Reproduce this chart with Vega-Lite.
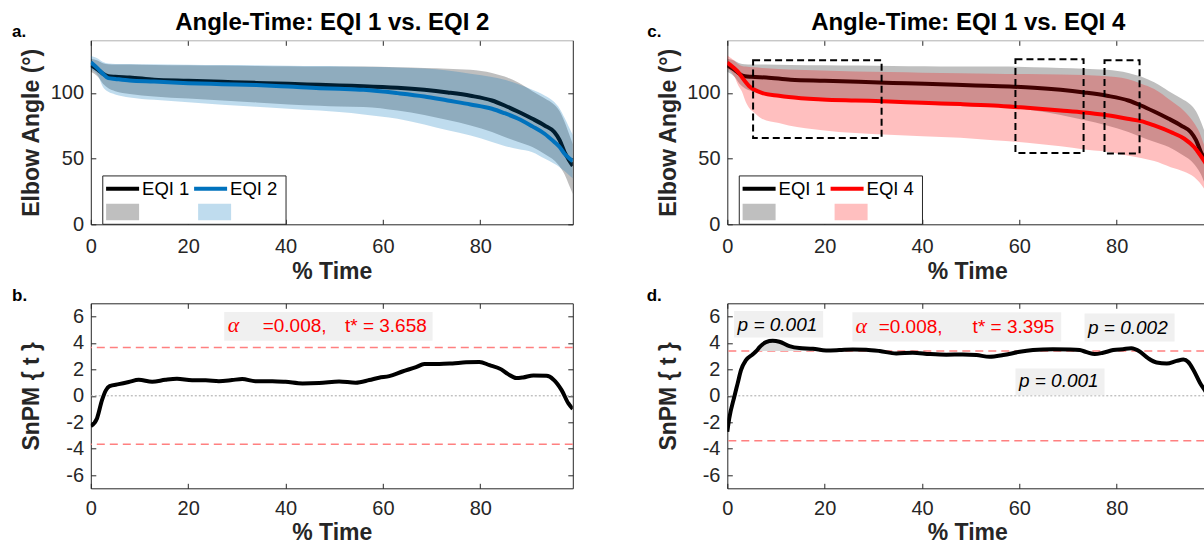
{
"$schema":"https://vega.github.io/schema/vega-lite/v6.json",
"padding":{"left":10.8,"top":10.3,"right":0,"bottom":0},
"autosize":{"type":"pad"},
"background":"#ffffff",
"config":{
 "font":"Liberation Sans",
 "view":{"stroke":null},
 "axis":{"labelFont":"Liberation Sans","labelFontSize":20,"labelColor":"#262626","titleFont":"Liberation Sans","titleFontSize":23,"titleFontWeight":"bold","titleColor":"#262626","tickColor":"#262626","domainColor":"#262626","tickSize":-5,"tickWidth":1,"domainWidth":1,"grid":false,"labelFlush":false,"labelOverlap":false,"labelBound":false,"titleBaseline":"alphabetic","titlePadding":0},
 "legend":{"labelFont":"Liberation Sans"}
},
"datasets":{
 "eqi1":[
  {"s":"EQI 1","sd":"EQI 1 SD","x":0,"m":121,"lo":116,"hi":126},
  {"s":"EQI 1","sd":"EQI 1 SD","x":1.5,"m":117.5,"lo":112,"hi":124.5},
  {"s":"EQI 1","sd":"EQI 1 SD","x":2.5,"m":114.5,"lo":107,"hi":122.5},
  {"s":"EQI 1","sd":"EQI 1 SD","x":3.6,"m":112.7,"lo":103.5,"hi":121.8},
  {"s":"EQI 1","sd":"EQI 1 SD","x":5,"m":112.2,"lo":101.3,"hi":121.6},
  {"s":"EQI 1","sd":"EQI 1 SD","x":8,"m":111.7,"lo":99.2,"hi":121.5},
  {"s":"EQI 1","sd":"EQI 1 SD","x":13,"m":110,"lo":97.3,"hi":121.3},
  {"s":"EQI 1","sd":"EQI 1 SD","x":20,"m":109.2,"lo":95.7,"hi":121},
  {"s":"EQI 1","sd":"EQI 1 SD","x":27,"m":108.4,"lo":94.2,"hi":120.8},
  {"s":"EQI 1","sd":"EQI 1 SD","x":34,"m":107.6,"lo":92.7,"hi":120.5},
  {"s":"EQI 1","sd":"EQI 1 SD","x":40.6,"m":106.9,"lo":91.2,"hi":120.3},
  {"s":"EQI 1","sd":"EQI 1 SD","x":47,"m":106.1,"lo":90.2,"hi":120.1},
  {"s":"EQI 1","sd":"EQI 1 SD","x":51,"m":105.6,"lo":89.6,"hi":120},
  {"s":"EQI 1","sd":"EQI 1 SD","x":56,"m":105.1,"lo":89.3,"hi":120},
  {"s":"EQI 1","sd":"EQI 1 SD","x":63,"m":103.9,"lo":86.6,"hi":119.5},
  {"s":"EQI 1","sd":"EQI 1 SD","x":68.5,"m":102.3,"lo":83.2,"hi":119},
  {"s":"EQI 1","sd":"EQI 1 SD","x":73.3,"m":100.3,"lo":79.3,"hi":118.4},
  {"s":"EQI 1","sd":"EQI 1 SD","x":78,"m":97.8,"lo":75.2,"hi":117.5},
  {"s":"EQI 1","sd":"EQI 1 SD","x":82.4,"m":94.2,"lo":70.2,"hi":115.2},
  {"s":"EQI 1","sd":"EQI 1 SD","x":85,"m":90.4,"lo":66.5,"hi":112.4},
  {"s":"EQI 1","sd":"EQI 1 SD","x":87.7,"m":85.8,"lo":62.8,"hi":108},
  {"s":"EQI 1","sd":"EQI 1 SD","x":90.7,"m":80.3,"lo":58.8,"hi":101.3},
  {"s":"EQI 1","sd":"EQI 1 SD","x":93.2,"m":75.2,"lo":53.5,"hi":96},
  {"s":"EQI 1","sd":"EQI 1 SD","x":95.2,"m":70.2,"lo":48.5,"hi":91},
  {"s":"EQI 1","sd":"EQI 1 SD","x":96.3,"m":64,"lo":44,"hi":86},
  {"s":"EQI 1","sd":"EQI 1 SD","x":97.3,"m":55,"lo":38,"hi":78},
  {"s":"EQI 1","sd":"EQI 1 SD","x":98.2,"m":49,"lo":30,"hi":69},
  {"s":"EQI 1","sd":"EQI 1 SD","x":99,"m":44.5,"lo":23,"hi":61}
 ],
 "eqi2":[
  {"s":"EQI 2","sd":"EQI 2 SD","x":0,"m":123.3,"lo":118,"hi":128},
  {"s":"EQI 2","sd":"EQI 2 SD","x":1.5,"m":118.3,"lo":113,"hi":126},
  {"s":"EQI 2","sd":"EQI 2 SD","x":2.5,"m":114.5,"lo":104.5,"hi":123.5},
  {"s":"EQI 2","sd":"EQI 2 SD","x":3.6,"m":111.2,"lo":100.8,"hi":122.3},
  {"s":"EQI 2","sd":"EQI 2 SD","x":5,"m":110.6,"lo":98.8,"hi":122},
  {"s":"EQI 2","sd":"EQI 2 SD","x":8,"m":109.4,"lo":96.5,"hi":122},
  {"s":"EQI 2","sd":"EQI 2 SD","x":13,"m":108.6,"lo":94.7,"hi":121.7},
  {"s":"EQI 2","sd":"EQI 2 SD","x":20,"m":107.4,"lo":92.8,"hi":121.4},
  {"s":"EQI 2","sd":"EQI 2 SD","x":27,"m":106.6,"lo":90.9,"hi":121.2},
  {"s":"EQI 2","sd":"EQI 2 SD","x":34,"m":105.9,"lo":89.4,"hi":121},
  {"s":"EQI 2","sd":"EQI 2 SD","x":40.6,"m":104.8,"lo":87.9,"hi":120.7},
  {"s":"EQI 2","sd":"EQI 2 SD","x":47,"m":103.6,"lo":86.5,"hi":120.4},
  {"s":"EQI 2","sd":"EQI 2 SD","x":51,"m":103.1,"lo":85.4,"hi":120.2},
  {"s":"EQI 2","sd":"EQI 2 SD","x":56,"m":102.3,"lo":83.6,"hi":119.8},
  {"s":"EQI 2","sd":"EQI 2 SD","x":63,"m":99.8,"lo":80.3,"hi":119.3},
  {"s":"EQI 2","sd":"EQI 2 SD","x":68.5,"m":97.3,"lo":76,"hi":118.5},
  {"s":"EQI 2","sd":"EQI 2 SD","x":73.3,"m":94.2,"lo":71.5,"hi":117},
  {"s":"EQI 2","sd":"EQI 2 SD","x":78,"m":91.2,"lo":67.5,"hi":114.5},
  {"s":"EQI 2","sd":"EQI 2 SD","x":82.4,"m":87.9,"lo":62.6,"hi":112},
  {"s":"EQI 2","sd":"EQI 2 SD","x":85,"m":84.5,"lo":59.6,"hi":109.9},
  {"s":"EQI 2","sd":"EQI 2 SD","x":87.7,"m":80.5,"lo":57.2,"hi":106.8},
  {"s":"EQI 2","sd":"EQI 2 SD","x":90.7,"m":74.5,"lo":54.8,"hi":102.3},
  {"s":"EQI 2","sd":"EQI 2 SD","x":93.2,"m":68.9,"lo":50,"hi":98},
  {"s":"EQI 2","sd":"EQI 2 SD","x":95.2,"m":62.6,"lo":46,"hi":93},
  {"s":"EQI 2","sd":"EQI 2 SD","x":96.3,"m":58.8,"lo":43.5,"hi":88},
  {"s":"EQI 2","sd":"EQI 2 SD","x":97.3,"m":53.7,"lo":40.5,"hi":81},
  {"s":"EQI 2","sd":"EQI 2 SD","x":98.2,"m":50.5,"lo":37.5,"hi":74},
  {"s":"EQI 2","sd":"EQI 2 SD","x":99,"m":48,"lo":35,"hi":68}
 ],
 "eqi4":[
  {"s":"EQI 4","sd":"EQI 4 SD","x":0,"m":123,"lo":119,"hi":128.5},
  {"s":"EQI 4","sd":"EQI 4 SD","x":1.5,"m":118.5,"lo":112,"hi":124.5},
  {"s":"EQI 4","sd":"EQI 4 SD","x":2.2,"m":116,"lo":106,"hi":122},
  {"s":"EQI 4","sd":"EQI 4 SD","x":3,"m":112,"lo":101,"hi":120.5},
  {"s":"EQI 4","sd":"EQI 4 SD","x":3.8,"m":108,"lo":93,"hi":120},
  {"s":"EQI 4","sd":"EQI 4 SD","x":4.5,"m":105,"lo":88.5,"hi":119.7},
  {"s":"EQI 4","sd":"EQI 4 SD","x":5.5,"m":102.5,"lo":85,"hi":119.5},
  {"s":"EQI 4","sd":"EQI 4 SD","x":7.1,"m":100,"lo":80.3,"hi":119},
  {"s":"EQI 4","sd":"EQI 4 SD","x":10.6,"m":97.8,"lo":77,"hi":118.2},
  {"s":"EQI 4","sd":"EQI 4 SD","x":12.6,"m":96.8,"lo":75.2,"hi":117.8},
  {"s":"EQI 4","sd":"EQI 4 SD","x":19.5,"m":95,"lo":71.6,"hi":117},
  {"s":"EQI 4","sd":"EQI 4 SD","x":26.3,"m":94.2,"lo":69.4,"hi":116.3},
  {"s":"EQI 4","sd":"EQI 4 SD","x":33.2,"m":93.5,"lo":68.1,"hi":115.8},
  {"s":"EQI 4","sd":"EQI 4 SD","x":40.1,"m":92.4,"lo":66.9,"hi":115.3},
  {"s":"EQI 4","sd":"EQI 4 SD","x":47.9,"m":91.5,"lo":65.8,"hi":115},
  {"s":"EQI 4","sd":"EQI 4 SD","x":54.7,"m":90.4,"lo":63.9,"hi":114.6},
  {"s":"EQI 4","sd":"EQI 4 SD","x":61.6,"m":88.6,"lo":62.1,"hi":114.3},
  {"s":"EQI 4","sd":"EQI 4 SD","x":68.5,"m":86.6,"lo":59.3,"hi":114},
  {"s":"EQI 4","sd":"EQI 4 SD","x":73.3,"m":85.1,"lo":57,"hi":113.6},
  {"s":"EQI 4","sd":"EQI 4 SD","x":77.4,"m":83.3,"lo":55.5,"hi":112.8},
  {"s":"EQI 4","sd":"EQI 4 SD","x":82.2,"m":80.3,"lo":52.4,"hi":110.5},
  {"s":"EQI 4","sd":"EQI 4 SD","x":85,"m":78.5,"lo":50.5,"hi":107},
  {"s":"EQI 4","sd":"EQI 4 SD","x":87.7,"m":75.2,"lo":48.1,"hi":103},
  {"s":"EQI 4","sd":"EQI 4 SD","x":91.1,"m":70.2,"lo":43.5,"hi":94.2},
  {"s":"EQI 4","sd":"EQI 4 SD","x":93.9,"m":65.1,"lo":40,"hi":86},
  {"s":"EQI 4","sd":"EQI 4 SD","x":95.9,"m":58.8,"lo":36,"hi":77},
  {"s":"EQI 4","sd":"EQI 4 SD","x":97,"m":53.5,"lo":32,"hi":70},
  {"s":"EQI 4","sd":"EQI 4 SD","x":98,"m":48,"lo":27,"hi":60},
  {"s":"EQI 4","sd":"EQI 4 SD","x":99,"m":42,"lo":22,"hi":52}
 ],
 "t12":[
  {"x":0,"t":-2.29},{"x":1.27,"t":-1.71},{"x":2.3,"t":-0.33},{"x":3.12,"t":0.43},{"x":3.87,"t":0.73},{"x":5.73,"t":0.88},{"x":7.78,"t":1.04},{"x":9.84,"t":1.21},{"x":12.6,"t":1.06},{"x":15.3,"t":1.21},{"x":17.7,"t":1.29},{"x":20.8,"t":1.17},{"x":23.6,"t":1.17},{"x":26.3,"t":1.11},{"x":29,"t":1.19},{"x":31.1,"t":1.27},{"x":33.8,"t":1.11},{"x":37.3,"t":1.11},{"x":40,"t":1.06},{"x":43.5,"t":0.94},{"x":46.9,"t":0.96},{"x":51,"t":1.09},{"x":54.4,"t":0.99},{"x":57.2,"t":1.19},{"x":59.2,"t":1.37},{"x":61.3,"t":1.49},{"x":64,"t":1.84},{"x":66.8,"t":2.17},{"x":68.5,"t":2.4},{"x":71.6,"t":2.4},{"x":74.3,"t":2.45},{"x":77.1,"t":2.53},{"x":79.8,"t":2.55},{"x":81.9,"t":2.32},{"x":84.3,"t":2.0},{"x":85.7,"t":1.64},{"x":87.4,"t":1.34},{"x":88.8,"t":1.39},{"x":90.9,"t":1.54},{"x":93.6,"t":1.51},{"x":95,"t":1.24},{"x":96.7,"t":0.43},{"x":98.1,"t":-0.58},{"x":99,"t":-1.0}
 ],
 "t14":[
  {"x":0,"t":-2.72},{"x":0.4,"t":-1.71},{"x":1.44,"t":-0.07},{"x":2.13,"t":0.94},{"x":2.81,"t":1.94},{"x":3.84,"t":2.7},{"x":5.2,"t":3.13},{"x":6.0,"t":3.4},{"x":6.58,"t":3.66},{"x":7.96,"t":4.06},{"x":9.33,"t":4.16},{"x":10.7,"t":4.09},{"x":12.76,"t":3.76},{"x":14.8,"t":3.61},{"x":17.6,"t":3.56},{"x":20.3,"t":3.43},{"x":23,"t":3.46},{"x":25.8,"t":3.51},{"x":28.5,"t":3.49},{"x":31.3,"t":3.39},{"x":34.7,"t":3.2},{"x":38.1,"t":3.26},{"x":41.6,"t":3.16},{"x":45,"t":3.11},{"x":48.4,"t":3.13},{"x":51.2,"t":3.08},{"x":53.9,"t":2.95},{"x":56.7,"t":3.08},{"x":60.1,"t":3.33},{"x":62.8,"t":3.46},{"x":66.9,"t":3.53},{"x":70.4,"t":3.51},{"x":72.4,"t":3.46},{"x":73.8,"t":3.31},{"x":75.5,"t":3.16},{"x":77.2,"t":3.26},{"x":79.3,"t":3.46},{"x":81.3,"t":3.53},{"x":83,"t":3.59},{"x":84.8,"t":3.33},{"x":86.5,"t":2.83},{"x":88.2,"t":2.52},{"x":90.3,"t":2.45},{"x":92.3,"t":2.64},{"x":93.7,"t":2.74},{"x":94.7,"t":2.56},{"x":95.8,"t":1.94},{"x":97.1,"t":0.99},{"x":98.5,"t":0.18},{"x":99,"t":-0.2}
 ],
 "legbox":[{"x1":2.46,"x2":40.1,"y1":0,"y2":36.8}],
 "zero":[{"v":0}],
 "thr12":[{"v":3.658},{"v":-3.658}],
 "thr14":[{"v":3.395},{"v":-3.395}],
 "boxesC":[
  {"x1":5.3,"x2":31.7,"y1":65.7,"y2":124.8},
  {"x1":59.2,"x2":73.2,"y1":54.3,"y2":125.6},
  {"x1":77.5,"x2":84.7,"y1":53.8,"y2":124.8}
 ],
 "boxes12":[{"x1":27.4,"x2":70.2,"y1":4.16,"y2":6.35}],
 "alpha12":[{"x":29.3,"y":4.8,"t":"α"}],
 "red12":[{"x":35.3,"y":4.8,"t":"=0.008,"},{"x":52.2,"y":4.8,"t":"t* = 3.658"}],
 "boxes14":[
  {"x1":1.4,"x2":19.7,"y1":4.42,"y2":6.41},
  {"x1":25.7,"x2":68.6,"y1":4.11,"y2":6.33},
  {"x1":73.4,"x2":91.9,"y1":4.11,"y2":6.23},
  {"x1":59.2,"x2":77.5,"y1":0.05,"y2":2.07}
 ],
 "alpha14":[{"x":27.5,"y":4.72,"t":"α"}],
 "red14":[{"x":31.1,"y":4.72,"t":"=0.008,"},{"x":50.4,"y":4.72,"t":"t* = 3.395"}],
 "p14":[
  {"x":10.3,"y":4.89,"t":"p = 0.001"},
  {"x":82.3,"y":4.64,"t":"p = 0.002"},
  {"x":68.1,"y":0.68,"t":"p = 0.001"}
 ]
},
"columns":2,
"spacing":{"row":79,"column":154.5},
"bounds":"flush",
"resolve":{"scale":{"x":"independent","y":"independent","fill":"independent","stroke":"independent"},"legend":{"fill":"independent","stroke":"independent"}},
"concat":[
 {
  "width":482,"height":184,
  "resolve":{"axis":{"x":"independent","y":"independent"}},
  "layer":[
   {"data":{"name":"eqi1"},"mark":{"type":"area","opacity":1,"interpolate":"monotone","clip":true},
    "encoding":{
     "x":{"field":"x","type":"quantitative","scale":{"domain":[0,99],"nice":false,"zero":false},
      "axis":{"orient":"bottom","values":[0,20,40,60,80],"labelPadding":17,"title":"% Time","titleX":241,"titleY":54.3}},
     "y":{"field":"hi","type":"quantitative","scale":{"domain":[0,140],"nice":false,"zero":false},
      "axis":{"orient":"left","values":[0,50,100],"labelPadding":12.3,"title":"Elbow Angle (°)","titleX":-52.2,"titleY":92,"titleAngle":270,"titleAlign":"center"}},
     "y2":{"field":"lo"},
     "fill":{"field":"sd","type":"nominal",
      "scale":{"domain":["EQI 1 SD","EQI 2 SD"],"range":["rgba(0,0,0,0.25)","rgba(0,114,189,0.25)"]},
      "legend":{"title":null,"orient":"none","direction":"horizontal","legendX":15.3,"legendY":155.3,"symbolType":"M-1,-0.5H1V0.5H-1Z","symbolSize":1089,"symbolStrokeWidth":0,"symbolOpacity":1,"labelExpr":"''","labelFontSize":18.5,"labelOffset":0,"columnPadding":59,"padding":0}}}},
   {"data":{"name":"eqi1"},"mark":{"type":"line","strokeWidth":4,"interpolate":"monotone","clip":true},
    "encoding":{"x":{"field":"x","type":"quantitative","axis":null},"y":{"field":"m","type":"quantitative","axis":null},
     "stroke":{"field":"s","type":"nominal","scale":{"domain":["EQI 1","EQI 2"],"range":["#000000","#0072bd"]},
      "legend":{"title":null,"orient":"none","direction":"horizontal","legendX":13.3,"legendY":130,"symbolType":"stroke","symbolSize":1089,"symbolStrokeWidth":4,"symbolOpacity":1,"labelFontSize":18.5,"labelColor":"#000000","labelOffset":1,"columnPadding":-4,"padding":0}}}},
   {"data":{"name":"eqi2"},"mark":{"type":"area","opacity":1,"interpolate":"monotone","clip":true},
    "encoding":{"x":{"field":"x","type":"quantitative","axis":null},"y":{"field":"hi","type":"quantitative","axis":null},"y2":{"field":"lo"},"fill":{"field":"sd","type":"nominal"}}},
   {"data":{"name":"eqi2"},"mark":{"type":"line","strokeWidth":4,"interpolate":"monotone","clip":true},
    "encoding":{"x":{"field":"x","type":"quantitative","axis":null},"y":{"field":"m","type":"quantitative","axis":null},"stroke":{"field":"s","type":"nominal"}}},
   {"data":{"name":"legbox"},"mark":{"type":"rect","fill":"#ffffff","stroke":"#262626","strokeWidth":1},
    "encoding":{"x":{"field":"x1","type":"quantitative","axis":null},"x2":{"field":"x2"},"y":{"field":"y1","type":"quantitative","axis":null},"y2":{"field":"y2"}}},
   {"data":{"name":"eqi1"},"mark":{"type":"point","opacity":0,"clip":true},
    "encoding":{
     "x":{"field":"x","type":"quantitative","axis":{"orient":"top","values":[0,20,40,60,80],"labels":false,"domainColor":"#b0b0b0","title":"Angle-Time: EQI 1 vs. EQI 2","titleFontSize":24,"titleColor":"#000000","titleX":241,"titleY":-10.7,"titleAlign":"center"}},
     "y":{"field":"m","type":"quantitative","axis":{"orient":"right","values":[0,50,100],"labels":false,"title":"a.","titleFontSize":17,"titleColor":"#000000","titleAngle":0,"titleAlign":"left","titleX":-561.2,"titleY":-3.3}}}}
  ]
 },
 {
  "width":477,"height":184,
  "resolve":{"axis":{"x":"independent","y":"independent"}},
  "layer":[
   {"data":{"name":"eqi1"},"mark":{"type":"area","opacity":1,"interpolate":"monotone","clip":true},
    "encoding":{
     "x":{"field":"x","type":"quantitative","scale":{"domain":[0,98],"nice":false,"zero":false},
      "axis":{"orient":"bottom","values":[0,20,40,60,80],"labelPadding":17,"title":"% Time","titleX":240,"titleY":54.3}},
     "y":{"field":"hi","type":"quantitative","scale":{"domain":[0,140],"nice":false,"zero":false},
      "axis":{"orient":"left","values":[0,50,100],"labelPadding":12.3,"title":"Elbow Angle (°)","titleX":-52.2,"titleY":92,"titleAngle":270,"titleAlign":"center"}},
     "y2":{"field":"lo"},
     "fill":{"field":"sd","type":"nominal",
      "scale":{"domain":["EQI 1 SD","EQI 4 SD"],"range":["rgba(0,0,0,0.25)","rgba(255,0,0,0.25)"]},
      "legend":{"title":null,"orient":"none","direction":"horizontal","legendX":15.3,"legendY":155.3,"symbolType":"M-1,-0.5H1V0.5H-1Z","symbolSize":1089,"symbolStrokeWidth":0,"symbolOpacity":1,"labelExpr":"''","labelFontSize":18.5,"labelOffset":0,"columnPadding":59,"padding":0}}}},
   {"data":{"name":"eqi1"},"mark":{"type":"line","strokeWidth":4,"interpolate":"monotone","clip":true},
    "encoding":{"x":{"field":"x","type":"quantitative","axis":null},"y":{"field":"m","type":"quantitative","axis":null},
     "stroke":{"field":"s","type":"nominal","scale":{"domain":["EQI 1","EQI 4"],"range":["#000000","#ff0000"]},
      "legend":{"title":null,"orient":"none","direction":"horizontal","legendX":13.3,"legendY":130,"symbolType":"stroke","symbolSize":1089,"symbolStrokeWidth":4,"symbolOpacity":1,"labelFontSize":18.5,"labelColor":"#000000","labelOffset":1,"columnPadding":-4,"padding":0}}}},
   {"data":{"name":"eqi4"},"mark":{"type":"area","opacity":1,"interpolate":"monotone","clip":true},
    "encoding":{"x":{"field":"x","type":"quantitative","axis":null},"y":{"field":"hi","type":"quantitative","axis":null},"y2":{"field":"lo"},"fill":{"field":"sd","type":"nominal"}}},
   {"data":{"name":"eqi4"},"mark":{"type":"line","strokeWidth":4,"interpolate":"monotone","clip":true},
    "encoding":{"x":{"field":"x","type":"quantitative","axis":null},"y":{"field":"m","type":"quantitative","axis":null},"stroke":{"field":"s","type":"nominal"}}},
   {"data":{"name":"boxesC"},"mark":{"type":"rect","fill":"transparent","stroke":"#000000","strokeWidth":2,"strokeDash":[7,4],"clip":true},
    "encoding":{"x":{"field":"x1","type":"quantitative","axis":null},"x2":{"field":"x2"},"y":{"field":"y1","type":"quantitative","axis":null},"y2":{"field":"y2"}}},
   {"data":{"name":"legbox"},"mark":{"type":"rect","fill":"#ffffff","stroke":"#262626","strokeWidth":1},
    "encoding":{"x":{"field":"x1","type":"quantitative","axis":null},"x2":{"field":"x2"},"y":{"field":"y1","type":"quantitative","axis":null},"y2":{"field":"y2"}}},
   {"data":{"name":"eqi1"},"mark":{"type":"point","opacity":0,"clip":true},
    "encoding":{
     "x":{"field":"x","type":"quantitative","axis":{"orient":"top","values":[0,20,40,60,80],"labels":false,"domainColor":"#b0b0b0","title":"Angle-Time: EQI 1 vs. EQI 4","titleFontSize":24,"titleColor":"#000000","titleX":240.4,"titleY":-10.7,"titleAlign":"center"}},
     "y":{"field":"m","type":"quantitative","axis":{"orient":"right","domain":false,"ticks":false,"labels":false,"title":"c.","titleFontSize":17,"titleColor":"#000000","titleAngle":0,"titleAlign":"left","titleX":-557.5,"titleY":-3.3}}}}
  ]
 },
 {
  "width":482,"height":185,
  "resolve":{"axis":{"x":"independent","y":"independent"}},
  "layer":[
   {"data":{"name":"zero"},"mark":{"type":"rule","color":"#a6a6a6","strokeWidth":1,"strokeDash":[2,2]},
    "encoding":{"y":{"field":"v","type":"quantitative","axis":null}}},
   {"data":{"name":"thr12"},"mark":{"type":"rule","color":"#ff8080","strokeWidth":1.5,"strokeDash":[8,5]},
    "encoding":{"y":{"field":"v","type":"quantitative","axis":null}}},
   {"data":{"name":"t12"},"mark":{"type":"line","color":"#000000","strokeWidth":4,"interpolate":"monotone","clip":true},
    "encoding":{
     "x":{"field":"x","type":"quantitative","scale":{"domain":[0,99],"nice":false,"zero":false},
      "axis":{"orient":"bottom","values":[0,20,40,60,80],"labelPadding":15,"title":"% Time","titleX":241,"titleY":51}},
     "y":{"field":"t","type":"quantitative","scale":{"domain":[-7,7],"nice":false,"zero":false},
      "axis":{"orient":"left","values":[-6,-4,-2,0,2,4,6],"labelPadding":12.3,"labelExpr":"datum.value < 0 ? '-' + abs(datum.value) : '' + datum.value","title":"SnPM { t }","titleX":-52.2,"titleY":92.5,"titleAngle":270,"titleAlign":"center"}}}},
   {"data":{"name":"boxes12"},"mark":{"type":"rect","color":"#f0f0f0"},
    "encoding":{"x":{"field":"x1","type":"quantitative","axis":null},"x2":{"field":"x2"},"y":{"field":"y1","type":"quantitative","axis":null},"y2":{"field":"y2"}}},
   {"data":{"name":"alpha12"},"mark":{"type":"text","font":"Liberation Serif","fontStyle":"italic","fontSize":22,"color":"#ff0000","align":"center","baseline":"alphabetic"},
    "encoding":{"x":{"field":"x","type":"quantitative","axis":null},"y":{"field":"y","type":"quantitative","axis":null},"text":{"field":"t"}}},
   {"data":{"name":"red12"},"mark":{"type":"text","font":"Liberation Sans","fontSize":19,"color":"#ff0000","align":"left","baseline":"alphabetic"},
    "encoding":{"x":{"field":"x","type":"quantitative","axis":null},"y":{"field":"y","type":"quantitative","axis":null},"text":{"field":"t"}}},
   {"data":{"name":"t12"},"mark":{"type":"point","opacity":0,"clip":true},
    "encoding":{
     "x":{"field":"x","type":"quantitative","axis":{"orient":"top","values":[0,20,40,60,80],"labels":false,"title":"b.","titleFontSize":17,"titleColor":"#000000","titleAlign":"left","titleX":-79.2,"titleY":-3}},
     "y":{"field":"t","type":"quantitative","axis":{"orient":"right","values":[-6,-4,-2,0,2,4,6],"labels":false,"title":null}}}}
  ]
 },
 {
  "width":477,"height":185,
  "resolve":{"axis":{"x":"independent","y":"independent"}},
  "layer":[
   {"data":{"name":"zero"},"mark":{"type":"rule","color":"#a6a6a6","strokeWidth":1,"strokeDash":[2,2]},
    "encoding":{"y":{"field":"v","type":"quantitative","axis":null}}},
   {"data":{"name":"thr14"},"mark":{"type":"rule","color":"#ff8080","strokeWidth":1.5,"strokeDash":[8,5]},
    "encoding":{"y":{"field":"v","type":"quantitative","axis":null}}},
   {"data":{"name":"t14"},"transform":[{"filter":"datum.x >= 6 && datum.x <= 20.3"}],"mark":{"type":"area","color":"#d9d9d9","opacity":1,"interpolate":"monotone","clip":true},
    "encoding":{"x":{"field":"x","type":"quantitative","axis":null},"y":{"field":"t","type":"quantitative","axis":null},"y2":{"datum":3.395}}},
   {"data":{"name":"t14"},"mark":{"type":"line","color":"#000000","strokeWidth":4,"interpolate":"monotone","clip":true},
    "encoding":{
     "x":{"field":"x","type":"quantitative","scale":{"domain":[0,98],"nice":false,"zero":false},
      "axis":{"orient":"bottom","values":[0,20,40,60,80],"labelPadding":15,"title":"% Time","titleX":240,"titleY":51}},
     "y":{"field":"t","type":"quantitative","scale":{"domain":[-7,7],"nice":false,"zero":false},
      "axis":{"orient":"left","values":[-6,-4,-2,0,2,4,6],"labelPadding":12.3,"labelExpr":"datum.value < 0 ? '-' + abs(datum.value) : '' + datum.value","title":"SnPM { t }","titleX":-52.2,"titleY":92.5,"titleAngle":270,"titleAlign":"center"}}}},
   {"data":{"name":"boxes14"},"mark":{"type":"rect","color":"#f0f0f0"},
    "encoding":{"x":{"field":"x1","type":"quantitative","axis":null},"x2":{"field":"x2"},"y":{"field":"y1","type":"quantitative","axis":null},"y2":{"field":"y2"}}},
   {"data":{"name":"alpha14"},"mark":{"type":"text","font":"Liberation Serif","fontStyle":"italic","fontSize":22,"color":"#ff0000","align":"center","baseline":"alphabetic"},
    "encoding":{"x":{"field":"x","type":"quantitative","axis":null},"y":{"field":"y","type":"quantitative","axis":null},"text":{"field":"t"}}},
   {"data":{"name":"red14"},"mark":{"type":"text","font":"Liberation Sans","fontSize":19,"color":"#ff0000","align":"left","baseline":"alphabetic"},
    "encoding":{"x":{"field":"x","type":"quantitative","axis":null},"y":{"field":"y","type":"quantitative","axis":null},"text":{"field":"t"}}},
   {"data":{"name":"p14"},"mark":{"type":"text","font":"Liberation Sans","fontStyle":"italic","fontSize":19,"color":"#000000","align":"center","baseline":"alphabetic"},
    "encoding":{"x":{"field":"x","type":"quantitative","axis":null},"y":{"field":"y","type":"quantitative","axis":null},"text":{"field":"t"}}},
   {"data":{"name":"t14"},"mark":{"type":"point","opacity":0,"clip":true},
    "encoding":{
     "x":{"field":"x","type":"quantitative","axis":{"orient":"top","values":[0,20,40,60,80],"labels":false,"title":"d.","titleFontSize":17,"titleColor":"#000000","titleAlign":"left","titleX":-81.1,"titleY":-3}},
     "y":{"field":"t","type":"quantitative","axis":null}}}
  ]
 }
]
}
